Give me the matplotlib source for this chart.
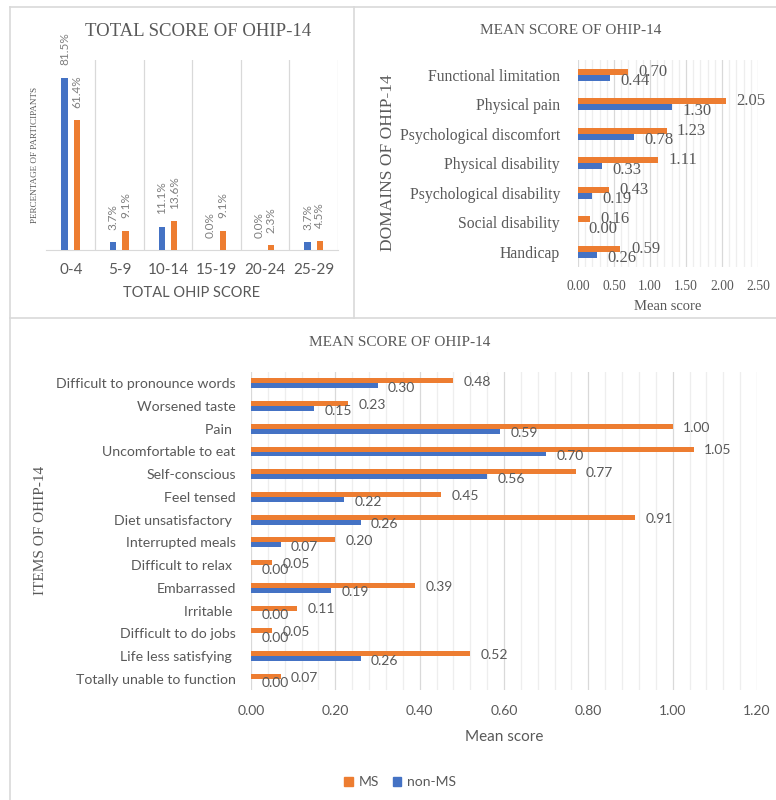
import matplotlib

matplotlib.use("Agg")
import matplotlib.pyplot as plt
import numpy as np
from matplotlib.lines import Line2D
from matplotlib.patches import Patch
from matplotlib.ticker import MultipleLocator

W, H = 776, 800

SCORE_BINS = ["0-4", "5-9", "10-14", "15-19", "20-24", "25-29"]
PCT_NON_MS = [81.5, 3.7, 11.1, 0.0, 0.0, 3.7]
PCT_MS = [61.4, 9.1, 13.6, 9.1, 2.3, 4.5]

DOMAINS = [
    "Functional limitation",
    "Physical pain",
    "Psychological discomfort",
    "Physical disability",
    "Psychological disability",
    "Social disability",
    "Handicap",
]
DOMAIN_MS = [0.70, 2.05, 1.23, 1.11, 0.43, 0.16, 0.59]
DOMAIN_NON_MS = [0.44, 1.30, 0.78, 0.33, 0.19, 0.00, 0.26]

ITEMS = [
    "Difficult to pronounce words",
    "Worsened taste",
    "Pain ",
    "Uncomfortable to eat",
    "Self-conscious",
    "Feel tensed",
    "Diet unsatisfactory ",
    "Interrupted meals",
    "Difficult to relax ",
    "Embarrassed",
    "Irritable ",
    "Difficult to do jobs",
    "Life less satisfying ",
    "Totally unable to function",
]
ITEM_MS = [0.48, 0.23, 1.00, 1.05, 0.77, 0.45, 0.91, 0.20, 0.05, 0.39, 0.11, 0.05, 0.52, 0.07]
ITEM_NON_MS = [0.30, 0.15, 0.59, 0.70, 0.56, 0.22, 0.26, 0.07, 0.00, 0.19, 0.00, 0.00, 0.26, 0.00]

MS_COLOR = "#ED7D31"
NON_MS_COLOR = "#4472C4"
TEXT = "#595959"
LABEL = "#7F7F7F"
GRID = "#D9D9D9"
MINOR_GRID = "#EEEEEE"
BORDER = "#D9D9D9"
SERIF = "Liberation Serif"
SANS = "Lato"


def add_axes_px(fig, left, top, right, bottom):
    return fig.add_axes([left / W, 1 - bottom / H, (right - left) / W, (bottom - top) / H])


def fig_text(fig, x, y, s, **kw):
    kw.setdefault("ha", "center")
    kw.setdefault("va", "center")
    kw.setdefault("color", TEXT)
    return fig.text(x / W, 1 - y / H, s, **kw)


def fig_line(fig, xs, ys):
    fig.add_artist(Line2D([x / W for x in xs], [1 - y / H for y in ys], color=BORDER, linewidth=1.2))


def hide_spines(ax):
    for side in ("top", "right", "left", "bottom"):
        ax.spines[side].set_visible(False)


def plot_total_score(fig):
    ax = add_axes_px(fig, 46.5, 60, 338, 250)
    x = np.arange(len(SCORE_BINS))
    w = 0.13
    ax.bar(x - 0.127, PCT_NON_MS, w, color=NON_MS_COLOR, zorder=3)
    ax.bar(x + 0.127, PCT_MS, w, color=MS_COLOR, zorder=3)
    ax.set_xlim(-0.5, len(SCORE_BINS) - 0.5)
    ax.set_ylim(0, 90)
    for edge in np.arange(0.5, len(SCORE_BINS), 1):
        ax.axvline(edge, color=GRID, linewidth=0.9, zorder=0)
    hide_spines(ax)
    ax.spines["bottom"].set_visible(True)
    ax.spines["bottom"].set_color(GRID)
    ax.set_yticks([])
    ax.set_xticks(x)
    ax.set_xticklabels(SCORE_BINS, fontsize=11, family=SANS, color=TEXT)
    ax.tick_params(axis="x", length=0, pad=9)

    for offset, values in ((-0.127, PCT_NON_MS), (0.127, PCT_MS)):
        for xi, v in zip(x, values):
            ax.annotate(f"{v:.1f}%", (xi + offset, v), xytext=(0, 9), textcoords="offset points",
                        rotation=90, ha="center", va="bottom", fontsize=8.5, family=SANS, color=LABEL)

    fig_text(fig, 198, 31, "TOTAL SCORE OF OHIP-14", fontsize=13.5, family=SERIF)
    fig_text(fig, 35, 155, "PERCENTAGE OF PARTICIPANTS", fontsize=6.6, family=SERIF, rotation=90)
    fig_text(fig, 192, 293, "TOTAL OHIP SCORE", fontsize=10.5, family=SANS)


def style_hbar_axes(ax, major, minor):
    ax.xaxis.set_major_locator(MultipleLocator(major))
    ax.xaxis.set_minor_locator(MultipleLocator(minor))
    ax.grid(True, axis="x", which="major", color=GRID, linewidth=0.9, zorder=0)
    ax.grid(True, axis="x", which="minor", color=MINOR_GRID, linewidth=0.9, zorder=0)
    ax.set_axisbelow(True)
    hide_spines(ax)
    ax.tick_params(axis="both", which="both", length=0)


def plot_domains(fig):
    ax = add_axes_px(fig, 578, 60, 758, 266.5)
    y = np.arange(len(DOMAINS))
    h = 0.2
    ax.barh(y - h / 2, DOMAIN_MS, h, color=MS_COLOR, zorder=3)
    ax.barh(y + h / 2, DOMAIN_NON_MS, h, color=NON_MS_COLOR, zorder=3)
    ax.set_xlim(0, 2.5)
    ax.set_ylim(len(DOMAINS) - 0.5, -0.5)
    style_hbar_axes(ax, 0.5, 0.1)
    ax.set_yticks(y)
    ax.set_yticklabels(DOMAINS, fontsize=11.3, family=SERIF, color=TEXT)
    ax.tick_params(axis="y", pad=13)
    ax.tick_params(axis="x", pad=9.5, labelsize=9.8, labelcolor=TEXT)
    for lab in ax.get_xticklabels():
        lab.set_family(SERIF)
    ax.xaxis.set_major_formatter(lambda v, pos: f"{v:.2f}")

    for yi, v in zip(y, DOMAIN_MS):
        ax.annotate(f"{v:.2f}", (v, yi - h / 2), xytext=(7.5, 0), textcoords="offset points",
                    ha="left", va="center", fontsize=12, family=SERIF, color=TEXT)
    for yi, v in zip(y, DOMAIN_NON_MS):
        ax.annotate(f"{v:.2f}", (v, yi + h / 2), xytext=(7.5, -2.5), textcoords="offset points",
                    ha="left", va="center", fontsize=12, family=SERIF, color=TEXT)

    fig_text(fig, 571, 30, "MEAN SCORE OF OHIP-14", fontsize=11, family=SERIF)
    fig_text(fig, 388, 163, "DOMAINS OF OHIP-14", fontsize=12.5, family=SERIF, rotation=90)
    fig_text(fig, 668, 307, "Mean score", fontsize=10.5, family=SERIF)


def plot_items(fig):
    ax = add_axes_px(fig, 251, 372, 757, 690)
    y = np.arange(len(ITEMS))
    h = 0.22
    ax.barh(y - h / 2, ITEM_MS, h, color=MS_COLOR, zorder=3)
    ax.barh(y + h / 2, ITEM_NON_MS, h, color=NON_MS_COLOR, zorder=3)
    ax.set_xlim(0, 1.2)
    ax.set_ylim(len(ITEMS) - 0.5, -0.5)
    style_hbar_axes(ax, 0.2, 0.04)
    ax.set_yticks(y)
    ax.set_yticklabels(ITEMS, fontsize=10.2, family=SANS, color=TEXT)
    ax.tick_params(axis="y", pad=11)
    ax.tick_params(axis="x", pad=11, labelsize=10, labelcolor=TEXT)
    for lab in ax.get_xticklabels():
        lab.set_family(SANS)
    ax.xaxis.set_major_formatter(lambda v, pos: f"{v:.2f}")

    for yi, v in zip(y, ITEM_MS):
        ax.annotate(f"{v:.2f}", (v, yi - h / 2), xytext=(7.5, -1), textcoords="offset points",
                    ha="left", va="center", fontsize=10, family=SANS, color=TEXT)
    for yi, v in zip(y, ITEM_NON_MS):
        ax.annotate(f"{v:.2f}", (v, yi + h / 2), xytext=(7.5, -1.5), textcoords="offset points",
                    ha="left", va="center", fontsize=10, family=SANS, color=TEXT)

    fig_text(fig, 400, 342, "MEAN SCORE OF OHIP-14", fontsize=11, family=SERIF)
    fig_text(fig, 40, 530, "ITEMS OF OHIP-14", fontsize=11, family=SERIF, rotation=90)
    fig_text(fig, 504, 737, "Mean score", fontsize=11, family=SANS)

    handles = [Patch(color=MS_COLOR), Patch(color=NON_MS_COLOR)]
    fig.legend(handles, ["MS", "non-MS"], loc="center", bbox_to_anchor=(400 / W, 1 - 782 / H),
               ncol=2, frameon=False, handlelength=0.6, handleheight=0.6, handletextpad=0.4,
               columnspacing=1.0, prop={"family": SANS, "size": 10}, labelcolor=TEXT)


def main():
    fig = plt.figure(figsize=(W / 100, H / 100), dpi=100)
    fig.patch.set_facecolor("white")

    # panel frames
    fig_line(fig, [10, 776], [7, 7])
    fig_line(fig, [10, 10], [7, 800])
    fig_line(fig, [354, 354], [7, 318])
    fig_line(fig, [10, 776], [318, 318])

    plot_total_score(fig)
    plot_domains(fig)
    plot_items(fig)

    fig.savefig("out.png", dpi=100)
    plt.close(fig)


if __name__ == "__main__":
    main()
